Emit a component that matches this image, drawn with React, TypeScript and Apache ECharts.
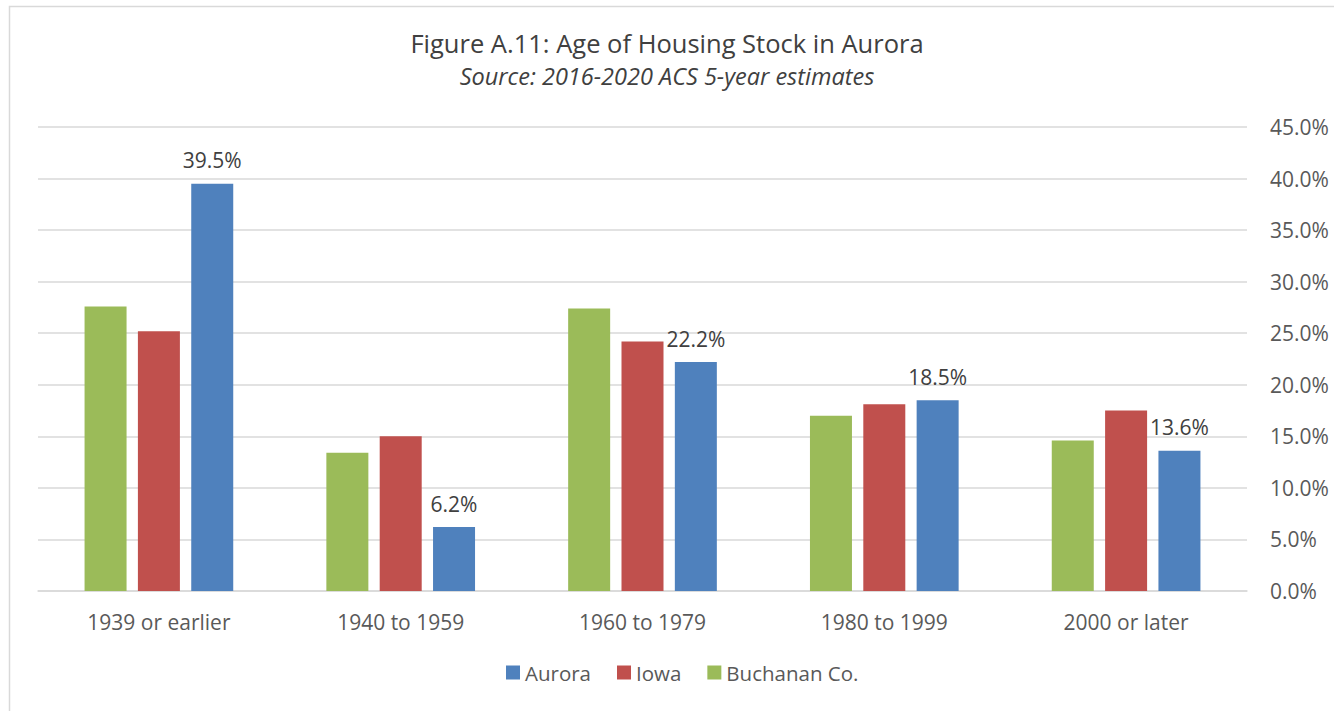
import React, { useEffect, useRef } from "react";
import * as echarts from "echarts";

const categories = ["1939 or earlier", "1940 to 1959", "1960 to 1979", "1980 to 1999", "2000 or later"];
const buchanan = [27.6, 13.4, 27.4, 17.0, 14.6];
const iowa = [25.2, 15.0, 24.2, 18.1, 17.5];
const aurora = [39.5, 6.2, 22.2, 18.5, 13.6];
const legendOrder = ["Aurora", "Iowa", "Buchanan Co."];

const FONT = "'Open Sans', sans-serif";

export default function App() {
  const ref = useRef<HTMLDivElement>(null);
  useEffect(() => {
    document.body.style.margin = "0";
    const chart = echarts.init(ref.current!, null, { renderer: "svg" });
    chart.setOption({
      animation: false,
      backgroundColor: "#ffffff",
      textStyle: { fontFamily: FONT },
      title: {
        text: "Figure A.11: Age of Housing Stock in Aurora",
        subtext: "Source: 2016-2020 ACS 5-year estimates",
        left: "center",
        top: 25,
        itemGap: 8,
        textStyle: { fontFamily: FONT, fontSize: 25.5, fontWeight: "normal", color: "#404040" },
        subtextStyle: { fontFamily: FONT, fontSize: 23.5, fontStyle: "italic", color: "#404040" },
      },
      graphic: [
        {
          type: "rect",
          shape: { x: 9.5, y: 6.5, width: 1400, height: 800 },
          style: { fill: "none", stroke: "#d9d9d9", lineWidth: 1.5 },
          silent: true,
        },
      ],
      legend: {
        data: legendOrder,
        bottom: 23,
        left: 501,
        itemWidth: 14,
        itemHeight: 14,
        itemGap: 26,
        icon: "rect",
        textStyle: { fontFamily: FONT, fontSize: 20.5, color: "#595959" },
      },
      grid: { left: 38, right: 87, top: 127, bottom: 120 },
      xAxis: {
        type: "category",
        data: categories,
        axisLine: { lineStyle: { color: "#d9d9d9", width: 1.5 } },
        axisTick: { show: false },
        axisLabel: { fontFamily: FONT, fontSize: 21, color: "#595959", margin: 20 },
      },
      yAxis: {
        type: "value",
        position: "right",
        min: 0,
        max: 45,
        interval: 5,
        axisLine: { show: false },
        axisTick: { show: false },
        splitLine: { lineStyle: { color: "#d9d9d9", width: 1.5 } },
        axisLabel: {
          fontFamily: FONT,
          fontSize: 21,
          color: "#595959",
          margin: 23,
          formatter: (v: number) => v.toFixed(1) + "%",
        },
      },
      series: [
        {
          name: "Buchanan Co.",
          type: "bar",
          data: buchanan,
          barWidth: 42,
          barGap: "27%",
          itemStyle: { color: "#9bbb59" },
        },
        {
          name: "Iowa",
          type: "bar",
          data: iowa,
          barWidth: 42,
          barGap: "27%",
          itemStyle: { color: "#c0504d" },
        },
        {
          name: "Aurora",
          type: "bar",
          data: aurora,
          barWidth: 42,
          barGap: "27%",
          itemStyle: { color: "#4f81bd" },
          label: {
            show: true,
            position: "top",
            distance: 13,
            fontFamily: FONT,
            fontSize: 21,
            color: "#404040",
            formatter: (p: any) => p.value.toFixed(1) + "%",
          },
        },
      ],
    });
    return () => chart.dispose();
  }, []);
  return <div ref={ref} style={{ width: 1334, height: 711 }} />;
}
